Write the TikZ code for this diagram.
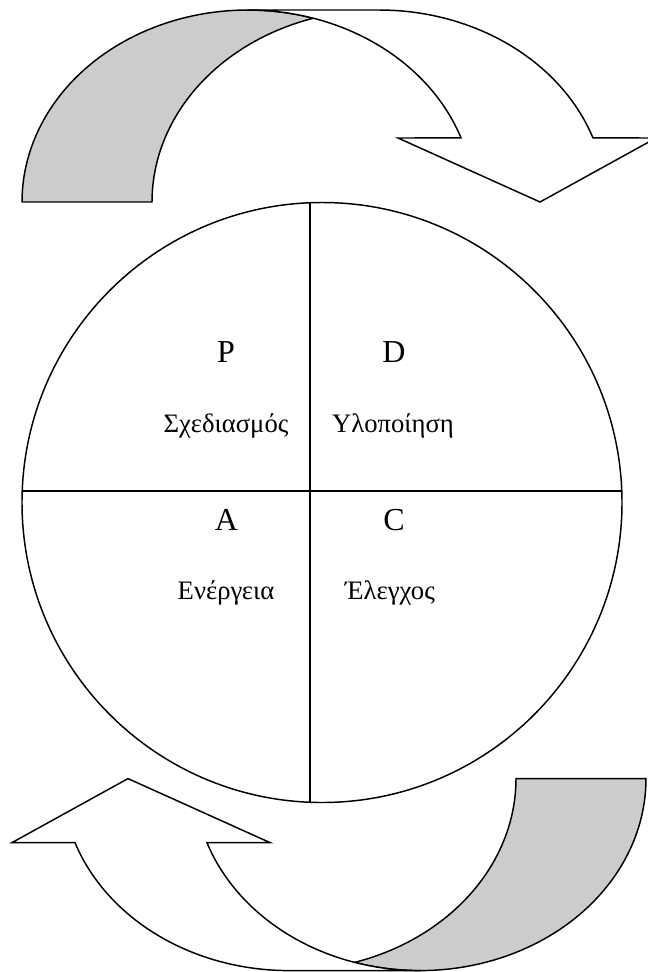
\documentclass[tikz,border=0pt]{standalone}
\usepackage{fontspec}
\setmainfont{Liberation Serif}
\definecolor{bandgray}{HTML}{CCCCCC}
\begin{document}
\begin{tikzpicture}[x=0.75pt,y=-0.75pt,
  outline/.style={draw=black,line width=1.1pt,line join=miter},
  lbl/.style={anchor=base,inner sep=0pt,font=\fontsize{20}{24}\selectfont},
  letter/.style={anchor=base,inner sep=0pt,font=\fontsize{24}{28}\selectfont}]
\useasboundingbox (0,0) rectangle (648,972);
\clip (0,0) rectangle (648,972);
% ---- curved arrow (top), reused rotated for the bottom ----
\newcommand{\curvedarrowshape}{%
  \path[outline,fill=bandgray] (22,202)
    -- plot[domain=180:73.19,samples=60] ({248+226*cos(\x)},{202-192*sin(\x)})
    -- plot[domain=106.81:180,samples=60] ({379+227*cos(\x)},{202-192*sin(\x)})
    -- cycle;
  \path[outline,fill=white] (248,10) -- (379,10)
    -- plot[domain=90:19.5,samples=60] ({379+227*cos(\x)},{202-192*sin(\x)})
    -- (656,138) -- (540,202) -- (398,138)
    -- plot[domain=19.5:90,samples=60] ({248+226*cos(\x)},{202-192*sin(\x)})
    -- cycle;}
\begin{scope}
  \curvedarrowshape
\end{scope}
\begin{scope}[rotate around={180:(334,490.3)}]
  \curvedarrowshape
\end{scope}
% ---- circle with cross ----
\node[circle,draw,line width=1.1pt,minimum size=450pt,inner sep=0pt] (circ) at (322,502.5) {};
\coordinate (vtop) at (310,202.74);
\coordinate (vbot) at (310,802.26);
\coordinate (hleft) at (22.22,491);
\coordinate (hright) at (621.78,491);
\draw[line width=1.1pt] (vtop) -- (vbot);
\draw[line width=1.1pt] (hleft) -- (hright);
% ---- labels ----
\node[letter] (p) at (226,362) {P};
\node[letter] (d) at (394,362) {D};
\node[lbl] (plan) at (226,432) {Σχεδιασμός};
\node[lbl] (impl) at (393,432) {Υλοποίηση};
\node[letter] (a) at (226.5,530) {A};
\node[letter] (c) at (394,530) {C};
\node[lbl] (act) at (226,599) {Ενέργεια};
\node[lbl] (check) at (390,599) {Έλεγχος};
\end{tikzpicture}
\end{document}
